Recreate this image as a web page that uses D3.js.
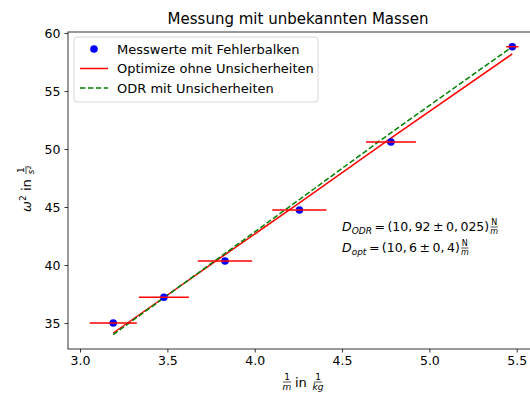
<!DOCTYPE html>
<html>
<head>
<meta charset="utf-8">
<script src="https://cdn.jsdelivr.net/npm/d3@7"></script>
<style>
  body { margin: 0; background: #fff; }
  svg text { font-family: "DejaVu Sans", sans-serif; }
</style>
</head>
<body>
<div id="chart"></div>
<script>
// data
var invMass = [3.19, 3.48, 3.83, 4.256, 4.78, 5.475];
var omega2 = [35.0, 37.22, 40.35, 44.74, 50.6, 58.82];
var invMassErr = [0.135, 0.143, 0.155, 0.155, 0.143, 0.035];
var fitOpt = [34.14, 37.2, 40.9, 45.35, 50.95, 58.2];
var fitOdr = [34.0, 37.17, 41.0, 45.65, 51.4, 58.82];
var xTicks = [3.0, 3.5, 4.0, 4.5, 5.0, 5.5];
var yTicks = [35, 40, 45, 50, 55, 60];
var legendLabels = ["Messwerte mit Fehlerbalken", "Optimize ohne Unsicherheiten", "ODR mit Unsicherheiten"];

var width = 530, height = 396;
var mLeft = 68, mTop = 32, mBottom = 349, mRight = 538;

var svg = d3.select("#chart").append("svg")
  .attr("width", width)
  .attr("height", height);

var x = d3.scaleLinear().domain([2.931, 5.622]).range([mLeft, mRight]);
var y = d3.scaleLinear().domain([32.76, 60.09]).range([mBottom, mTop]);

// axes
svg.append("g")
  .attr("transform", "translate(0," + mBottom + ")")
  .call(d3.axisBottom(x).tickValues(xTicks).tickFormat(d3.format(".1f")).tickSize(3.5).tickPadding(4));
svg.append("g")
  .attr("transform", "translate(" + mLeft + ",0)")
  .call(d3.axisLeft(y).tickValues(yTicks).tickFormat(d3.format("d")).tickSize(3.5).tickPadding(4));
svg.selectAll(".tick text").attr("font-size", 12.5).attr("fill", "#000").style("font-family", "DejaVu Sans");
svg.selectAll(".domain").remove();
svg.selectAll(".tick line").attr("stroke", "#000").attr("stroke-width", 0.8);

svg.append("rect")
  .attr("x", mLeft).attr("y", mTop)
  .attr("width", mRight - mLeft).attr("height", mBottom - mTop)
  .attr("fill", "none").attr("stroke", "#000").attr("stroke-width", 0.8);

// fit lines
var line = d3.line()
  .x(function(d) { return x(d[0]); })
  .y(function(d) { return y(d[1]); });

svg.append("path")
  .datum(d3.zip(invMass, fitOpt))
  .attr("d", line)
  .attr("fill", "none")
  .attr("stroke", "#ff0000")
  .attr("stroke-width", 1.5);

svg.append("path")
  .datum(d3.zip(invMass, fitOdr))
  .attr("d", line)
  .attr("fill", "none")
  .attr("stroke", "#008000")
  .attr("stroke-width", 1.5)
  .attr("stroke-dasharray", "5.5,2.4");

// points
svg.selectAll("circle.pt")
  .data(d3.range(invMass.length))
  .enter().append("circle")
  .attr("class", "pt")
  .attr("cx", function(i) { return x(invMass[i]); })
  .attr("cy", function(i) { return y(omega2[i]); })
  .attr("r", 3.8)
  .attr("fill", "#0000ff");

// error bars
svg.selectAll("line.err")
  .data(d3.range(invMass.length))
  .enter().append("line")
  .attr("class", "err")
  .attr("x1", function(i) { return x(invMass[i] - invMassErr[i]); })
  .attr("x2", function(i) { return x(invMass[i] + invMassErr[i]); })
  .attr("y1", function(i) { return y(omega2[i]); })
  .attr("y2", function(i) { return y(omega2[i]); })
  .attr("stroke", "#ff0000")
  .attr("stroke-width", 1.5);

// legend
var lg = svg.append("g");
lg.append("rect")
  .attr("x", 74).attr("y", 37).attr("width", 244).attr("height", 65)
  .attr("rx", 3)
  .attr("fill", "#fff").attr("fill-opacity", 0.8)
  .attr("stroke", "#ccc").attr("stroke-width", 0.8);
lg.append("circle").attr("cx", 94).attr("cy", 49).attr("r", 3.8).attr("fill", "#0000ff");
lg.append("line").attr("x1", 80).attr("x2", 108).attr("y1", 68.5).attr("y2", 68.5)
  .attr("stroke", "#ff0000").attr("stroke-width", 1.5);
lg.append("line").attr("x1", 80).attr("x2", 108).attr("y1", 88).attr("y2", 88)
  .attr("stroke", "#008000").attr("stroke-width", 1.5).attr("stroke-dasharray", "5.5,2.4");
lg.selectAll("text")
  .data(legendLabels)
  .enter().append("text")
  .attr("x", 117)
  .attr("y", function(d, i) { return 53.5 + i * 19.5; })
  .attr("font-size", 13)
  .text(function(d) { return d; });

// title
svg.append("text")
  .attr("x", 298).attr("y", 24)
  .attr("text-anchor", "middle")
  .attr("font-size", 15)
  .text("Messung mit unbekannten Massen");

// small helper for fractions like 1/x
function frac(g, cx, cy, num, den, size) {
  g.append("text").attr("x", cx).attr("y", cy - 2).attr("text-anchor", "middle")
    .attr("font-size", size).text(num);
  g.append("line").attr("x1", cx - size * 0.45).attr("x2", cx + size * 0.45)
    .attr("y1", cy).attr("y2", cy).attr("stroke", "#000").attr("stroke-width", 0.7);
  g.append("text").attr("x", cx).attr("y", cy + size * 0.85).attr("text-anchor", "middle")
    .attr("font-size", size).attr("font-style", "italic").text(den);
}

// x label
var xl = svg.append("g");
frac(xl, 287, 382, "1", "m", 9);
xl.append("text").attr("x", 295).attr("y", 387).attr("font-size", 13).text("in");
frac(xl, 318, 382, "1", "kg", 9);

// y label
var yl = svg.append("g").attr("transform", "translate(31,190) rotate(-90)");
var t = yl.append("text").attr("x", -22).attr("y", 0).attr("font-size", 13);
t.append("tspan").attr("font-style", "italic").text("ω");
t.append("tspan").attr("dy", -5).attr("font-size", 9).text("2");
yl.append("text").attr("x", -1).attr("y", 0).attr("font-size", 13).text("in");
frac(yl, 20, -5, "1", "s²", 9);

// annotation
function dLabel(yy, sub, val) {
  var txt = svg.append("text").attr("x", 342).attr("y", yy).attr("font-size", 12.5);
  txt.append("tspan").attr("font-style", "italic").text("D");
  txt.append("tspan").attr("font-style", "italic").attr("font-size", 9).attr("dy", 2.5).text(sub);
  txt.append("tspan").attr("dy", -2.5).text("\u2009=\u2009" + val);
  return txt;
}
var a1 = dLabel(231, "ODR", "(10,\u200992\u2009±\u20090,\u2009025)");
var a2 = dLabel(252, "opt", "(10,\u20096\u2009±\u20090,\u20094)");
var b1 = a1.node().getBBox(), b2 = a2.node().getBBox();
var ag = svg.append("g");
frac(ag, b1.x + b1.width + 5, 227, "N", "m", 8);
frac(ag, b2.x + b2.width + 5, 248, "N", "m", 8);
</script>
</body>
</html>
